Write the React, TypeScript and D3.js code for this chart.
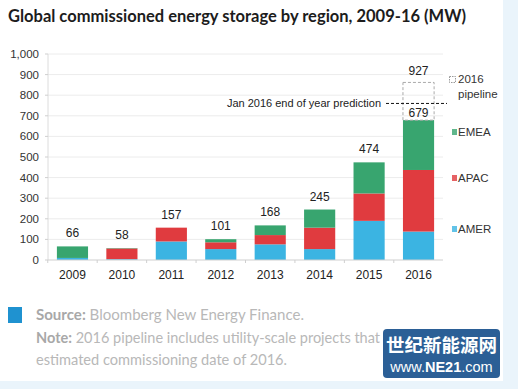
import * as d3 from "d3";

// data (MW)
const years = ["2009", "2010", "2011", "2012", "2013", "2014", "2015", "2016"];
const amer = [10, 4, 90, 53, 76, 53, 190, 138];
const apac = [0, 52, 67, 33, 45, 104, 133, 299];
const emea = [56, 2, 0, 15, 47, 88, 151, 242];
const totalLabels = ["66", "58", "157", "101", "168", "245", "474", "679"];
const pipelineLabel = "927";
const pipelineTop = 862; // where the dashed box ends on the drawn scale
const predictionValue = 760;
const yTicks = [0, 100, 200, 300, 400, 500, 600, 700, 800, 900, 1000];

const regions = ["AMER", "APAC", "EMEA"];
const colors: Record<string, string> = {
  AMER: "#3bb4e2",
  APAC: "#e03b3f",
  EMEA: "#38a56f",
};

const W = 518;
const H = 389;

export default function App() {
  const x = d3.scaleBand<string>().domain(years).range([48, 443]).paddingInner(0.37).paddingOuter(0.18);
  const y = d3.scaleLinear().domain([0, 1000]).range([260, 54]);

  const rows = years.map((yr, i) => ({ year: yr, AMER: amer[i], APAC: apac[i], EMEA: emea[i] }));
  const series = d3.stack<any>().keys(regions)(rows);

  const bw = x.bandwidth();
  const last = years[years.length - 1];
  const lastTotal = amer[7] + apac[7] + emea[7];
  const axisFont = "Liberation Sans, Arial, sans-serif";

  return (
    <svg width={W} height={H} style={{ position: "fixed", top: 0, left: 0, background: "#fff" }}>
      {/* frame strips */}
      <rect x={503} y={0} width={15} height={H} fill="#eaf4fb" />
      <rect x={0} y={381} width={W} height={8} fill="#eaf4fb" />

      <text x={8} y={22} fontFamily="Lato, sans-serif" fontWeight="bold" fontSize={16.5} fill="#1c1c1c">
        Global commissioned energy storage by region, 2009-16 (MW)
      </text>

      {/* grid */}
      {yTicks.filter((t) => t > 0).map((t) => (
        <line key={t} x1={48} x2={443} y1={y(t)} y2={y(t)} stroke="#ececec" strokeWidth={1} />
      ))}
      {/* y axis */}
      <line x1={48} x2={48} y1={y(1000)} y2={y(0)} stroke="#dcdcdc" />
      {yTicks.map((t) => (
        <g key={"yt" + t}>
          <line x1={45} x2={48} y1={y(t)} y2={y(t)} stroke="#cfcfcf" />
          <text x={39} y={y(t) + 4} textAnchor="end" fontFamily={axisFont} fontSize={11.5} fill="#333">
            {d3.format(",")(t)}
          </text>
        </g>
      ))}

      {/* bars */}
      {series.map((s) => (
        <g key={s.key} fill={colors[s.key]}>
          {s.map((d, i) => (
            <rect key={i} x={x(years[i])} y={y(d[1])} width={bw} height={Math.max(0, y(d[0]) - y(d[1]))} />
          ))}
        </g>
      ))}

      {/* x axis */}
      <line x1={48} x2={443} y1={y(0)} y2={y(0)} stroke="#cfcfcf" />
      {years.map((yr, i) => (
        <g key={"xt" + yr}>
          <line
            x1={(x(yr) as number) - (x.step() - bw) / 2}
            x2={(x(yr) as number) - (x.step() - bw) / 2}
            y1={y(0)}
            y2={y(0) + 3}
            stroke="#cfcfcf"
          />
          <text x={(x(yr) as number) + bw / 2} y={279} textAnchor="middle" fontFamily={axisFont} fontSize={12} fill="#222">
            {yr}
          </text>
          {i < years.length - 1 && (
            <text
              x={(x(yr) as number) + bw / 2}
              y={y(amer[i] + apac[i] + emea[i]) - 9}
              textAnchor="middle"
              fontFamily={axisFont}
              fontSize={12}
              fill="#222"
            >
              {totalLabels[i]}
            </text>
          )}
        </g>
      ))}

      {/* 2016 pipeline */}
      <rect
        x={x(last)}
        y={y(pipelineTop)}
        width={bw}
        height={y(lastTotal) - y(pipelineTop)}
        fill="none"
        stroke="#aaa"
        strokeDasharray="3,2"
      />
      <text x={(x(last) as number) + bw / 2} y={y(pipelineTop) - 7} textAnchor="middle" fontFamily={axisFont} fontSize={12} fill="#222">
        {pipelineLabel}
      </text>
      <text x={(x(last) as number) + bw / 2} y={y(lastTotal) - 3} textAnchor="middle" fontFamily={axisFont} fontSize={12} fill="#222">
        {totalLabels[7]}
      </text>

      {/* prediction line */}
      <line x1={386} x2={447} y1={y(predictionValue)} y2={y(predictionValue)} stroke="#111" strokeDasharray="3,2" />
      <text x={381} y={y(predictionValue) + 4} textAnchor="end" fontFamily={axisFont} fontSize={11} fill="#222">
        Jan 2016 end of year prediction
      </text>

      {/* legend */}
      <rect x={449.5} y={76.5} width={6} height={6} fill="none" stroke="#999" strokeDasharray="1.5,1" />
      <text x={458} y={83} fontFamily={axisFont} fontSize={11.5} fill="#333">2016</text>
      <text x={458} y={98} fontFamily={axisFont} fontSize={11.5} fill="#333">pipeline</text>
      {[
        { k: "EMEA", yy: 132 },
        { k: "APAC", yy: 178 },
        { k: "AMER", yy: 229 },
      ].map((l) => (
        <g key={l.k}>
          <rect x={452} y={l.yy - 3} width={5} height={6} fill={colors[l.k]} opacity={0.8} />
          <text x={458} y={l.yy + 4} fontFamily={axisFont} fontSize={11.5} fill="#333">{l.k}</text>
        </g>
      ))}

      {/* footer */}
      <rect x={8} y={307} width={14} height={16} fill="#1f92d0" />
      <g fontFamily="Lato, sans-serif" fontSize={15} fill="#b8b8b8">
        <text x={36} y={320} textLength={268} lengthAdjust="spacingAndGlyphs">
          <tspan fontWeight="bold" fill="#a8a8a8">Source:</tspan> Bloomberg New Energy Finance.
        </text>
        <text x={36} y={343} textLength={344} lengthAdjust="spacingAndGlyphs">
          <tspan fontWeight="bold" fill="#a8a8a8">Note:</tspan> 2016 pipeline includes utility-scale projects that
        </text>
        <text x={36} y={365} textLength={251} lengthAdjust="spacingAndGlyphs">
          estimated commissioning date of 2016.
        </text>
      </g>

      {/* watermark */}
      <rect x={383} y={329} width={117} height={49} rx={4} fill="#2b5f96" />
      <text x={441.5} y={352} textAnchor="middle" fontFamily="Noto Sans CJK SC, sans-serif" fontWeight="bold" fontSize={18.5} fill="#fff">
        世纪新能源网
      </text>
      <text x={441.5} y={372} textAnchor="middle" fontFamily="Liberation Sans, Arial, sans-serif" fontSize={14.5} fill="#fff">
        www.<tspan fontWeight="bold">NE21</tspan>.com
      </text>
    </svg>
  );
}
